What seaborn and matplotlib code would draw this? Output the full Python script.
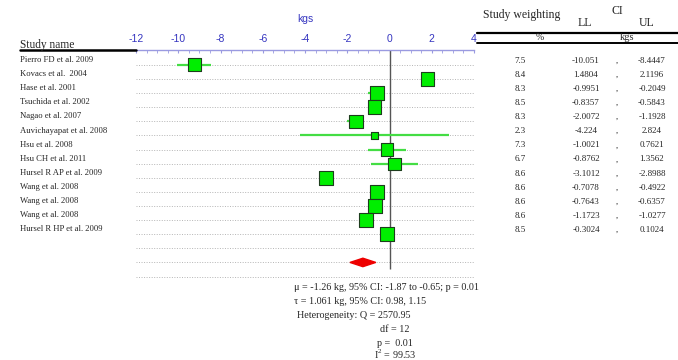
import matplotlib
matplotlib.use("Agg")
import matplotlib.pyplot as plt
import matplotlib.transforms as mtransforms
from matplotlib.ticker import MultipleLocator
import seaborn as sns
import pandas as pd
import numpy as np

# ------------------------------
# data
# ------------------------------
studies = ["Pierro FD et al. 2009", "Kovacs et al.  2004", "Hase et al. 2001",
           "Tsuchida et al. 2002", "Nagao et al. 2007", "Auvichayapat et al. 2008",
           "Hsu et al. 2008", "Hsu CH et al. 2011", "Hursel R AP et al. 2009",
           "Wang et al. 2008", "Wang et al. 2008", "Wang et al. 2008",
           "Hursel R HP et al. 2009"]
weights = [7.5, 8.4, 8.3, 8.5, 8.3, 2.3, 7.3, 6.7, 8.6, 8.6, 8.6, 8.6, 8.5]
lower = [-10.051, 1.4804, -0.9951, -0.8357, -2.0072, -4.224, -1.0021,
         -0.8762, -3.1012, -0.7078, -0.7643, -1.1723, -0.3024]
upper = [-8.4447, 2.1196, -0.2049, -0.5843, -1.1928, 2.824, 0.7621,
         1.3562, -2.8988, -0.4922, -0.6357, -1.0277, 0.1024]
estimate = [-9.25, 1.80, -0.60, -0.71, -1.60, -0.70, -0.12, 0.24, -3.00,
            -0.60, -0.70, -1.10, -0.10]
lower_txt = ["-10.051", "1.4804", "-0.9951", "-0.8357", "-2.0072", "-4.224", "-1.0021",
             "-0.8762", "-3.1012", "-0.7078", "-0.7643", "-1.1723", "-0.3024"]
upper_txt = ["-8.4447", "2.1196", "-0.2049", "-0.5843", "-1.1928", "2.824", "0.7621",
             "1.3562", "-2.8988", "-0.4922", "-0.6357", "-1.0277", "0.1024"]
pooled = -1.26
pooled_lo, pooled_hi = -1.87, -0.65
x_ticks = [-12, -10, -8, -6, -4, -2, 0, 2, 4]
stats_lines = ["\u03bc = -1.26 kg, 95% CI: -1.87 to -0.65; p = 0.01",
               "\u03c4 = 1.061 kg, 95% CI: 0.98, 1.15",
               "Heterogeneity: Q = 2570.95",
               "df = 12",
               "p =  0.01",
               "I$^2$ = 99.53"]

df = pd.DataFrame({"study": studies, "weight": weights, "lo": lower,
                   "hi": upper, "est": estimate})
df["row"] = np.arange(len(df))

# ------------------------------
# figure
# ------------------------------
sns.set_style("white")
plt.rcParams["font.family"] = ["Liberation Serif", "DejaVu Serif"]
plt.rcParams["axes.unicode_minus"] = False
plt.rcParams["mathtext.fontset"] = "custom"
plt.rcParams["mathtext.rm"] = "Liberation Serif"

W, H = 678, 360
fig = plt.figure(figsize=(W / 100, H / 100), dpi=100)
ax = fig.add_axes([136 / W, 1 - 285 / H, (474 - 136) / W, (285 - 50) / H])
ax.set_xlim(-12, 4)
ax.set_ylim(15.6, -1.06)

# dotted row guides
ax.hlines(np.arange(16), -12, 4, colors="#b5b5b5", linestyles=(0, (1, 1.6)), lw=0.7)
# zero line
ax.vlines(0, -1.06, 14.5, colors="#555555", lw=1)
# CI whiskers
ax.hlines(df["row"], df["lo"], df["hi"], colors="#44dd44", lw=1.6, zorder=3)
# study squares, area ~ weight
sns.scatterplot(data=df, x="est", y="row", size="weight",
                sizes=(2.3 * 11.6, 8.6 * 11.6), size_norm=(2.3, 8.6),
                marker="s", color="#00ee00", edgecolor="#1d3d1d", linewidth=0.8,
                legend=False, ax=ax, zorder=4)
# pooled diamond
ax.fill([pooled_lo, pooled, pooled_hi, pooled], [14, 13.7, 14, 14.3],
        color="#ee0000", zorder=4)

# top axis
for s in ["left", "right", "bottom"]:
    ax.spines[s].set_visible(False)
ax.spines["top"].set_color("#9a9ae0")
ax.spines["top"].set_linewidth(1)
ax.xaxis.tick_top()
ax.set_xticks(x_ticks)
ax.xaxis.set_minor_locator(MultipleLocator(0.5))
ax.tick_params(axis="x", which="both", direction="in", length=2.5,
               color="#9a9ae0", labelcolor="#3535c0", labelsize=7.5, pad=4)
for lab in ax.get_xticklabels():
    lab.set_family(["Liberation Sans", "DejaVu Sans"])
ax.set_yticks([])
ax.set_xlabel("kgs", color="#3535c0", fontsize=7.5, labelpad=9,
              family=["Liberation Sans", "DejaVu Sans"])
ax.xaxis.set_label_position("top")
ax.set_ylabel("")

# left column: study names
tr = mtransforms.blended_transform_factory(fig.transFigure, ax.transData)
for r, name in enumerate(studies):
    ax.text(20 / W, r - 0.35, name, transform=tr, fontsize=6.2, va="center",
            ha="left", clip_on=False)
fig.text(20 / W, 1 - 45 / H, "Study name", fontsize=8.3, va="center", ha="left")
fig.add_artist(plt.Line2D([20 / W, 136 / W], [1 - 50 / H] * 2, color="black", lw=1.8))

# right table
fig.text(483 / W, 1 - 15 / H, "Study weighting", fontsize=8.5, va="center", ha="left")
fig.text(585 / W, 1 - 23 / H, "LL", fontsize=8.5, va="center", ha="center")
fig.text(617 / W, 1 - 11 / H, "CI", fontsize=8.5, va="center", ha="center")
fig.text(647 / W, 1 - 23 / H, "UL", fontsize=8.5, va="center", ha="center")
fig.add_artist(plt.Line2D([477 / W, 678 / W], [1 - 33 / H] * 2, color="black", lw=1.6))
fig.text(540 / W, 1 - 38 / H, "%", fontsize=7, va="center", ha="center")
fig.text(627 / W, 1 - 38 / H, "kgs", fontsize=7.5, va="center", ha="center")
fig.add_artist(plt.Line2D([477 / W, 678 / W], [1 - 43 / H] * 2, color="black", lw=1.4))
for r in range(len(studies)):
    y = r - 0.3
    ax.text(520 / W, y, f"{weights[r]}", transform=tr, fontsize=6.5, va="center", ha="center")
    ax.text(586 / W, y, lower_txt[r], transform=tr, fontsize=6.5, va="center", ha="center")
    ax.text(617 / W, y, ",", transform=tr, fontsize=6.5, va="center", ha="center")
    ax.text(652 / W, y, upper_txt[r], transform=tr, fontsize=6.5, va="center", ha="center")

# pooled statistics
stat_pos = [(294, 287, "left"), (294, 301, "left"), (297, 316, "left"),
            (395, 330, "center"), (395, 343, "center"), (395, 354, "center")]
for (x, y, ha), line in zip(stat_pos, stats_lines):
    fig.text(x / W, 1 - y / H, line, fontsize=7.3, va="center", ha=ha)

fig.savefig("out.png", dpi=100)
